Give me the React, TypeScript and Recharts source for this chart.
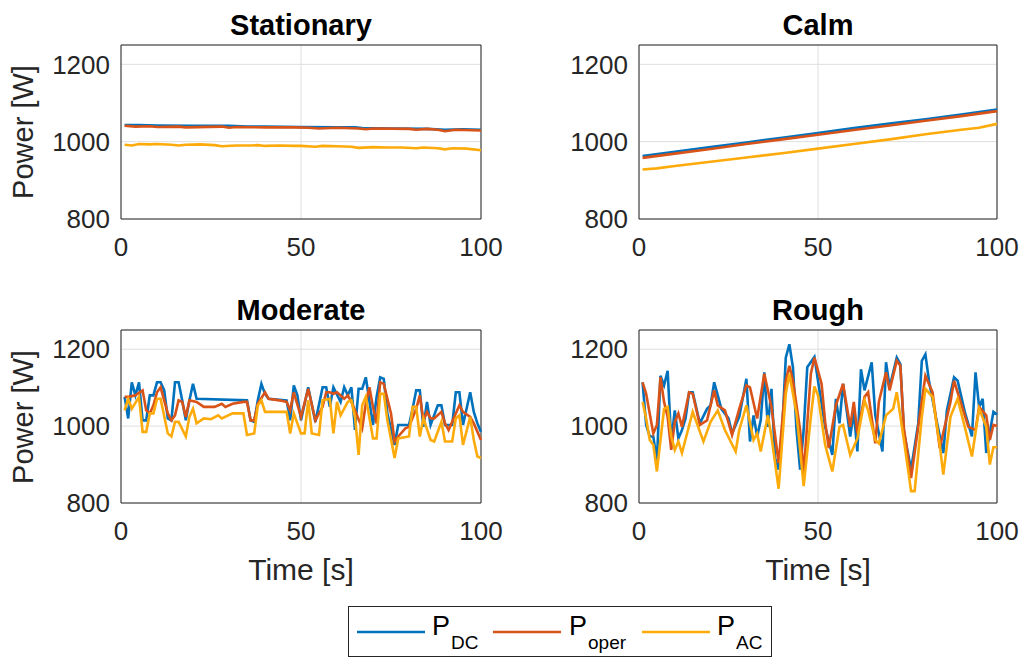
import React from "react";
import { LineChart, Line, XAxis, YAxis, CartesianGrid, ReferenceArea } from "recharts";

type Pt = [number, number];

const TIME_TICKS = [0, 50, 100];
const POWER_TICKS = [800, 1000, 1200];
const SERIES_NAMES = ["DC", "oper", "AC"];
const PANEL_TITLES = ["Stationary", "Calm", "Moderate", "Rough"];

const stationaryDC: Pt[] = [[1,1043],[5,1043],[10,1042],[20,1041],[30,1041],[35,1039],[40,1039],[50,1038],[60,1037],[65,1037],[67,1035],[75,1034],[85,1033],[90,1031],[95,1032],[100,1031]];
const stationaryOper: Pt[] = [[1,1041],[4,1039],[8,1040],[10,1038],[16,1039],[18,1037],[28,1039],[30,1036],[32,1038],[40,1037],[48,1037],[52,1036],[55,1034],[60,1036],[66,1034],[68,1032],[70,1034],[80,1033],[82,1031],[85,1033],[88,1031],[90,1027],[93,1031],[100,1029]];
const stationaryAC: Pt[] = [[1,992],[3,990],[5,994],[8,993],[10,994],[14,992],[16,990],[18,992],[22,993],[26,991],[28,988],[32,990],[36,990],[38,991],[40,989],[44,990],[48,989],[50,989],[54,987],[56,989],[60,988],[64,987],[66,984],[70,986],[74,985],[78,985],[82,983],[84,985],[88,983],[90,980],[92,983],[96,982],[100,978]];

const calmDC: Pt[] = [[1,963],[10,974],[20,986],[30,998],[40,1010],[50,1022],[60,1035],[70,1047],[80,1058],[90,1070],[100,1083]];
const calmOper: Pt[] = [[1,958],[10,969],[20,981],[30,994],[40,1006],[50,1018],[60,1030],[70,1042],[80,1054],[90,1066],[100,1079]];
const calmAC: Pt[] = [[1,928],[5,931],[10,937],[20,948],[30,959],[40,970],[50,982],[60,994],[70,1006],[80,1019],[90,1031],[95,1036],[100,1046]];

const moderateDC: Pt[] = [[1,1076],[2,1020],[3,1114],[4,1080],[5,1114],[6,1015],[7,1015],[8,1080],[9,1080],[10,1114],[11,1114],[12,1093],[13,1020],[14,1015],[15,1114],[16,1114],[17,1067],[18,1015],[19,1067],[20,1110],[21,1071],[35,1067],[36,1015],[37,1011],[38,1067],[39,1110],[40,1084],[41,1071],[46,1067],[47,1015],[48,1106],[49,1080],[50,1015],[52,1101],[54,1011],[56,1101],[57,1101],[58,1050],[59,1101],[61,1063],[62,1101],[63,1080],[64,1101],[65,990],[66,1097],[67,1097],[68,1127],[70,1003],[71,1076],[72,1127],[73,1123],[74,1033],[76,951],[77,1003],[80,1003],[81,1045],[82,1093],[83,1093],[84,998],[85,1063],[86,1003],[88,1054],[89,1054],[90,1003],[92,1003],[93,1088],[94,1088],[95,1003],[97,1088],[98,1037],[99,1007],[100,985]];
const moderateOper: Pt[] = [[1,1076],[2,1076],[3,1078],[4,1080],[6,1093],[7,1041],[8,1033],[9,1054],[10,1088],[11,1101],[13,1033],[14,1015],[15,1028],[16,1067],[17,1063],[18,1024],[19,1067],[21,1063],[23,1050],[26,1050],[28,1058],[29,1050],[31,1058],[34,1063],[35,1063],[36,1015],[37,1015],[38,1058],[40,1088],[41,1071],[44,1067],[46,1063],[47,1041],[48,1088],[50,1024],[52,1097],[54,1015],[56,1050],[57,1088],[58,1088],[59,1084],[60,1088],[62,1071],[63,1080],[64,1063],[65,1041],[67,994],[68,1058],[69,1101],[70,1050],[71,1007],[72,1114],[73,1110],[75,1033],[76,960],[77,973],[79,994],[80,998],[82,1045],[83,1080],[84,1015],[85,1037],[86,1020],[87,1020],[89,1037],[90,1007],[91,990],[93,1033],[94,1054],[95,1037],[97,1024],[98,1007],[100,964]];
const moderateAC: Pt[] = [[1,1041],[2,1071],[3,1045],[5,1076],[6,985],[7,985],[8,1033],[9,1033],[10,1071],[11,1071],[13,981],[14,973],[15,1011],[16,1011],[18,973],[19,1024],[20,1045],[21,1007],[23,1020],[25,1018],[27,1028],[28,1020],[31,1033],[34,1033],[35,977],[37,981],[38,1054],[39,1067],[40,1037],[43,1037],[46,1037],[47,981],[48,1033],[50,981],[51,981],[52,1067],[53,981],[55,977],[56,1067],[58,1071],[59,981],[60,1063],[61,1028],[63,1063],[64,1067],[65,1024],[66,925],[67,1054],[68,1076],[70,968],[71,968],[72,1084],[73,1084],[74,1015],[76,917],[77,968],[80,973],[81,1050],[82,1050],[83,973],[84,1020],[86,964],[87,960],[89,1011],[90,960],[92,960],[93,1020],[94,1028],[95,951],[97,1024],[98,964],[99,921],[100,917]];

const roughDC: Pt[] = [[1,1114],[2,1003],[3,973],[4,973],[5,908],[6,1131],[7,1106],[8,1144],[9,960],[10,1041],[11,968],[12,990],[13,1020],[14,1088],[15,1088],[17,1007],[19,1045],[20,1054],[21,1114],[22,1080],[23,1045],[25,1020],[26,981],[28,1024],[30,1123],[31,960],[32,1028],[33,973],[34,1015],[35,1140],[36,998],[37,1097],[38,917],[39,887],[40,990],[41,1178],[42,1213],[43,1153],[44,990],[45,887],[46,990],[47,1153],[49,1180],[50,1118],[52,998],[54,925],[55,1071],[56,1007],[57,1110],[59,973],[60,1037],[61,934],[62,1148],[63,1093],[65,1166],[66,1028],[68,934],[69,1166],[70,1101],[72,1178],[73,1161],[74,985],[76,887],[78,1007],[79,1170],[80,1187],[81,1118],[83,1020],[85,930],[86,1041],[88,1127],[89,1118],[91,1037],[93,973],[94,1140],[95,1050],[96,1071],[97,930],[99,1037],[100,1030]];
const roughOper: Pt[] = [[1,1114],[2,1084],[4,981],[5,1003],[6,1127],[7,1063],[8,1024],[9,938],[10,1011],[11,1033],[12,998],[14,1088],[15,1084],[17,1003],[19,1015],[21,1093],[22,1054],[24,1041],[26,977],[28,1045],[30,1106],[31,1101],[33,1020],[35,1136],[37,1050],[39,904],[41,1118],[42,1157],[43,1118],[45,990],[46,878],[48,1136],[49,1178],[51,1110],[52,1011],[53,943],[55,1054],[57,1110],[59,998],[60,1063],[61,981],[63,1076],[64,1088],[66,955],[67,1063],[69,1140],[70,1093],[72,1170],[73,1157],[74,994],[76,865],[78,998],[80,1131],[82,1088],[84,943],[87,1063],[88,1118],[90,1058],[92,998],[94,990],[95,1050],[97,1028],[98,964],[99,1003],[100,1000]];
const roughAC: Pt[] = [[1,1063],[2,1020],[3,964],[4,951],[5,882],[7,1045],[8,1050],[9,973],[10,938],[11,960],[12,930],[15,1037],[18,960],[20,1011],[22,1041],[24,990],[27,934],[28,990],[30,1054],[32,964],[33,981],[34,934],[36,1028],[37,973],[39,837],[41,1084],[42,1136],[44,1033],[46,844],[48,1024],[49,1103],[50,1080],[52,951],[54,882],[56,998],[57,1003],[59,925],[61,968],[63,1067],[64,1041],[66,964],[67,955],[69,1028],[71,1045],[72,1088],[74,964],[76,831],[77,831],[79,1024],[80,1097],[82,1076],[84,951],[85,874],[87,1024],[89,1071],[91,998],[93,921],[95,1045],[97,998],[98,900],[99,945],[100,945]];

const COLORS = ["#0072BD", "#D95319", "#FDAA0B"];
const FONT = "'Liberation Sans', Arial, Helvetica, sans-serif";
const TEXT = "#262626";

function buildTable(dc: Pt[], oper: Pt[], ac: Pt[]) {
  const map = new Map<number, any>();
  const add = (arr: Pt[], key: string) =>
    arr.forEach(([t, v]) => {
      const row = map.get(t) ?? { t };
      row[key] = v;
      map.set(t, row);
    });
  add(dc, "dc");
  add(oper, "oper");
  add(ac, "ac");
  return Array.from(map.values()).sort((a, b) => a.t - b.t);
}

const panelData = [
  buildTable(stationaryDC, stationaryOper, stationaryAC),
  buildTable(calmDC, calmOper, calmAC),
  buildTable(moderateDC, moderateOper, moderateAC),
  buildTable(roughDC, roughOper, roughAC),
];

// layout: plot-area boxes
const layout = [
  { left: 121, top: 45, w: 360, h: 174, xlabel: false },
  { left: 639, top: 45, w: 358, h: 174, xlabel: false },
  { left: 121, top: 330, w: 360, h: 173, xlabel: true },
  { left: 639, top: 330, w: 358, h: 173, xlabel: true },
];

const YAXIS_W = 100;
const M_TOP = 10;
const M_RIGHT = 26;
const XAXIS_H = 50;

function Panel({ idx }: { idx: number }) {
  const L = layout[idx];
  const data = panelData[idx];
  const width = YAXIS_W + L.w + M_RIGHT;
  const height = M_TOP + L.h + XAXIS_H;
  const tickStyle = { fontSize: 26, fill: TEXT, fontFamily: FONT };
  const keys = ["dc", "oper", "ac"];
  return (
    <div style={{ position: "absolute", left: L.left - YAXIS_W, top: L.top - M_TOP }}>
      <LineChart width={width} height={height} data={data} margin={{ top: M_TOP, right: M_RIGHT, bottom: 0, left: 0 }}>
        <CartesianGrid stroke="#dedede" strokeWidth={1} />
        <XAxis
          dataKey="t"
          type="number"
          domain={[0, 100]}
          ticks={TIME_TICKS}
          tickLine={false}
          axisLine={false}
          tickSize={6}
          tickMargin={13}
          height={XAXIS_H}
          tick={tickStyle}
          interval={0}
        />
        <YAxis
          type="number"
          domain={[800, 1250]}
          ticks={POWER_TICKS}
          tickLine={false}
          axisLine={false}
          tickSize={6}
          tickMargin={5}
          width={YAXIS_W}
          tick={tickStyle}
          interval={0}
          allowDataOverflow
        />
        {keys.map((k, i) => (
          <Line
            key={k}
            dataKey={k}
            name={SERIES_NAMES[i]}
            stroke={COLORS[i]}
            strokeWidth={2.6}
            dot={false}
            connectNulls
            isAnimationActive={false}
            type="linear"
          />
        ))}
        <ReferenceArea x1={0} x2={100} y1={800} y2={1250} fill="none" stroke="#262626" strokeWidth={1} strokeOpacity={1} />
      </LineChart>
    </div>
  );
}

export default function App() {
  const titleTop = [11, 11, 296, 296];
  return (
    <div style={{ position: "absolute", left: 0, top: 0, width: 1024, height: 659, background: "#fff", fontFamily: FONT, color: TEXT, overflow: "hidden" }}>
      {layout.map((L, i) => (
        <React.Fragment key={i}>
          <Panel idx={i} />
          <div
            style={{ position: "absolute", left: L.left, width: L.w, top: titleTop[i], textAlign: "center", fontSize: 29, fontWeight: "bold", lineHeight: "29px", color: "#000" }}
          >
            {PANEL_TITLES[i]}
          </div>
          {L.xlabel && (
            <div style={{ position: "absolute", left: L.left, width: L.w, top: 555, textAlign: "center", fontSize: 30, lineHeight: "30px" }}>
              Time [s]
            </div>
          )}
        </React.Fragment>
      ))}
      {[132, 417].map((cy, i) => (
        <div
          key={i}
          style={{ position: "absolute", left: 23 - 100, top: cy - 15, width: 200, height: 30, textAlign: "center", fontSize: 29, lineHeight: "30px", transform: "rotate(-90deg)" }}
        >
          Power [W]
        </div>
      ))}
      <svg style={{ position: "absolute", left: 348, top: 606 }} width={424} height={52}>
        <rect x={0.5} y={0.5} width={423} height={50} fill="#fff" stroke="#262626" strokeWidth={1} />
        {[
          { lx: 9, px: 84, sx: 103 },
          { lx: 145, px: 221, sx: 240 },
          { lx: 294, px: 369, sx: 388 },
        ].map((p, i) => (
          <g key={i}>
            <line x1={p.lx} x2={p.lx + 68} y1={26} y2={26} stroke={COLORS[i]} strokeWidth={2.5} />
            <text x={p.px} y={29} fontSize={27} fill="#000" fontFamily={FONT}>P</text>
            <text x={p.sx} y={43} fontSize={19} fill="#000" fontFamily={FONT}>{SERIES_NAMES[i]}</text>
          </g>
        ))}
      </svg>
    </div>
  );
}
